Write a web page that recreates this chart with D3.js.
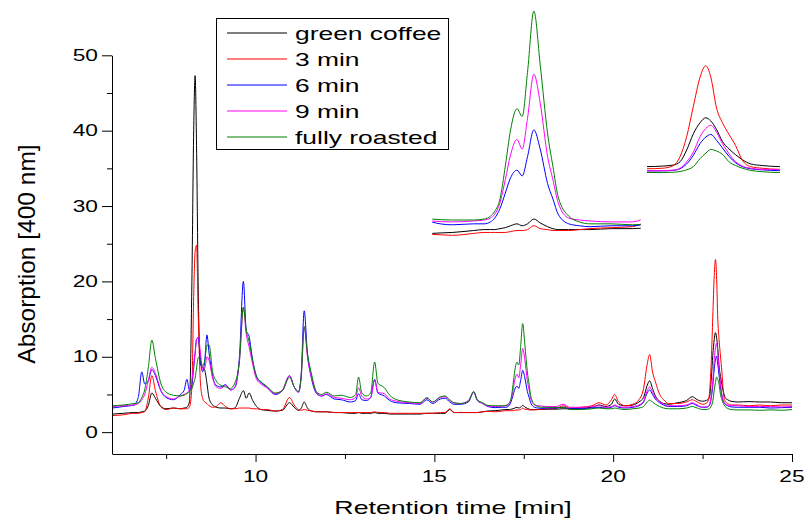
<!DOCTYPE html>
<html>
<head>
<meta charset="utf-8">
<style>
  body { margin: 0; background: #fff; }
  text { font-family: "Liberation Sans", Arial, sans-serif; fill: #000; }
</style>
</head>
<body>
<script src="https://cdn.jsdelivr.net/npm/d3@7"></script>
<script>
// retention time [min], shared by all traces
var times = [
  6.0, 6.3, 6.6, 6.72, 6.82, 6.9, 7.0, 7.1, 7.2, 7.35,
  7.5, 7.7, 7.9, 8.0, 8.08, 8.15, 8.22, 8.27, 8.31, 8.35,
  8.4, 8.46, 8.52, 8.58, 8.64, 8.7, 8.8, 8.9, 9.03, 9.16,
  9.3, 9.42, 9.55, 9.66, 9.74, 9.82, 9.92, 10.03, 10.15, 10.31,
  10.55, 10.75, 10.95, 11.08, 11.2, 11.28, 11.36, 11.45, 11.57, 11.71,
  11.85, 11.98, 12.2, 12.4, 12.65, 12.8, 12.88, 12.97, 13.1, 13.22,
  13.33, 13.42, 13.6, 13.75, 13.95, 14.3, 14.6, 14.79, 14.95, 15.17,
  15.3, 15.43, 15.55, 15.73, 15.95, 16.1, 16.2, 16.35, 16.5, 16.7,
  16.9, 17.0, 17.06, 17.1, 17.15, 17.2, 17.25, 17.31, 17.36, 17.41,
  17.47, 17.53, 17.6, 17.65, 17.7, 17.8, 17.9, 18.0, 18.2, 18.4,
  18.6, 18.8, 19.1, 19.4, 19.6, 19.8, 19.95, 20.04, 20.15, 20.34,
  20.55, 20.72, 20.85, 20.95, 21.02, 21.1, 21.18, 21.3, 21.41, 21.55,
  21.8, 22.05, 22.21, 22.35, 22.5, 22.6, 22.665, 22.705, 22.745, 22.785,
  22.826, 22.86, 22.89, 22.925, 22.96, 23.0, 23.04, 23.08, 23.13, 23.2,
  23.3, 23.5, 23.8, 24.1, 24.4, 24.7, 25.0
];

var greenCoffee = [
  2.4, 2.5, 2.6, 2.6, 2.7, 2.8, 3.5, 5.2, 4.5, 3.4,
  3.1, 3.2, 3.1, 3.2, 3.3, 4.0, 20.0, 40.0, 47.3, 38.0,
  18.0, 9.0, 8.6, 8.2, 6.5, 4.5, 3.6, 3.3, 3.2, 3.2,
  3.1, 3.2, 4.5, 5.5, 4.5, 5.2, 4.2, 3.4, 3.0, 2.9,
  2.8, 2.9, 3.9, 3.3, 2.9, 3.2, 4.0, 3.2, 2.8, 2.7,
  2.7, 2.7, 2.6, 2.6, 2.5, 2.5, 2.6, 2.5, 2.5, 2.5,
  2.6, 2.5, 2.5, 2.4, 2.4, 2.4, 2.4, 2.5, 2.5, 2.5,
  2.5, 3.0, 2.6, 2.6, 2.6, 2.6, 2.6, 2.7, 2.8, 2.85,
  2.95, 3.0, 3.0, 3.0, 3.05, 3.1, 3.2, 3.3, 3.2, 3.3,
  3.55, 3.35, 3.15, 3.05, 3.0, 3.0, 3.0, 3.0, 3.05, 3.05,
  3.1, 3.1, 3.2, 3.3, 3.6, 3.4, 3.7, 4.4, 3.7, 3.5,
  3.6, 4.0, 4.6, 6.2, 6.8, 5.8, 4.8, 4.1, 3.8, 3.7,
  3.9, 4.2, 4.7, 4.3, 4.1, 4.2, 4.4, 5.0, 7.2, 10.2,
  12.3, 13.2, 12.6, 11.0, 8.8, 7.4, 6.3, 5.4, 4.6, 4.3,
  4.1, 4.0, 4.05, 4.0, 4.0, 3.9, 3.9
];

var min3 = [
  2.2, 2.3, 2.5, 2.5, 2.6, 2.7, 4.5, 7.5, 5.5, 3.4,
  3.0, 3.2, 3.1, 3.1, 3.1, 3.3, 6.0, 18.0, 24.0, 24.8,
  15.0, 6.5, 4.5, 4.0, 3.8, 3.5, 3.3, 3.4, 3.9, 3.4,
  3.1, 3.1, 3.2, 3.2, 3.2, 3.2, 3.1, 3.1, 3.0, 3.0,
  2.8, 3.0, 4.6, 3.6, 3.0, 2.9, 3.0, 2.9, 2.8, 2.7,
  2.7, 2.7, 2.6, 2.6, 2.6, 2.6, 2.6, 2.6, 2.6, 2.6,
  2.7, 2.6, 2.6, 2.5, 2.5, 2.5, 2.5, 2.5, 2.5, 2.6,
  2.6, 3.1, 2.6, 2.6, 2.6, 2.6, 2.6, 2.7, 2.75, 2.7,
  2.8, 2.85, 2.85, 2.85, 2.85, 2.85, 2.9, 2.95, 2.95, 3.0,
  3.2, 3.05, 3.0, 2.95, 2.95, 2.95, 3.0, 3.05, 3.1, 3.15,
  3.5, 3.2, 3.3, 3.5, 3.9, 3.6, 4.3, 5.0, 4.0, 3.5,
  3.7, 4.3, 5.8, 9.0, 10.3, 8.0, 6.7, 5.0, 4.3, 3.8,
  3.8, 4.0, 4.3, 4.0, 3.7, 3.8, 4.3, 5.95, 9.7, 15.3,
  20.8, 22.9, 20.8, 15.0, 12.3, 10.1, 8.0, 5.3, 4.1, 3.8,
  3.6, 3.6, 3.5, 3.6, 3.5, 3.6, 3.6
];

var min6 = [
  3.2, 3.4, 3.6, 4.6, 8.0, 6.4, 6.8, 8.3, 7.5, 5.5,
  4.6, 4.3, 5.0, 5.5, 7.0, 5.6, 6.3, 8.5, 10.5, 12.3,
  12.5, 9.5, 8.0, 9.5, 12.9, 10.5, 7.4, 6.2, 6.0, 6.3,
  5.6, 5.9, 10.0, 20.0, 13.5, 12.7, 9.5, 7.3, 6.6, 6.0,
  5.0, 5.5, 7.5, 6.0, 5.3, 8.0, 16.1, 10.5, 7.0, 5.1,
  4.8, 5.0, 4.4, 4.3, 4.0, 4.2, 5.1, 4.3, 4.2, 4.6,
  7.0, 5.2, 4.8, 4.2, 3.9, 3.8, 3.7, 4.3, 3.8, 4.4,
  4.5, 4.0, 3.7, 3.7, 4.0, 5.3, 4.2, 3.8, 3.4, 3.25,
  3.3, 3.3, 3.4, 3.6, 4.1, 4.9, 5.7, 6.1, 5.8, 6.8,
  8.2, 7.2, 5.4, 4.6, 3.8, 3.3, 3.2, 3.15, 3.2, 3.2,
  3.3, 3.1, 3.1, 3.2, 3.3, 3.2, 3.3, 3.5, 3.3, 3.2,
  3.3, 3.5, 4.0, 5.2, 5.6, 5.0, 4.4, 3.9, 3.6, 3.4,
  3.4, 3.5, 3.8, 3.5, 3.3, 3.3, 3.4, 3.7, 4.6, 6.2,
  8.4, 9.6, 10.1, 9.0, 7.6, 6.0, 4.8, 4.1, 3.7, 3.5,
  3.35, 3.3, 3.3, 3.3, 3.2, 3.25, 3.3
];

var min9 = [
  3.4, 3.5, 3.6, 3.8, 4.3, 5.0, 6.8, 8.6, 7.8, 5.6,
  4.7, 4.4, 4.8, 5.0, 5.2, 5.6, 6.8, 9.0, 10.5, 12.3,
  12.6, 10.5, 8.3, 8.5, 10.0, 9.5, 7.2, 6.0, 5.8, 6.2,
  5.6, 6.0, 9.5, 16.5, 13.0, 11.3, 9.0, 7.0, 6.4, 5.9,
  5.1, 5.6, 7.5, 6.0, 5.3, 7.5, 14.0, 10.0, 7.2, 5.2,
  4.8, 5.1, 4.6, 4.5, 4.3, 4.6, 5.9, 4.8, 4.4, 4.6,
  6.9, 5.3, 5.1, 4.4, 4.1, 3.9, 3.8, 4.5, 4.0, 4.6,
  4.7, 4.2, 3.9, 3.8, 4.2, 5.3, 4.3, 3.8, 3.45, 3.4,
  3.45, 3.5, 3.6, 3.8, 4.4, 5.6, 6.9, 7.7, 7.2, 8.8,
  11.1, 9.6, 6.8, 5.6, 4.4, 3.6, 3.5, 3.45, 3.4, 3.4,
  3.7, 3.3, 3.3, 3.4, 3.5, 3.3, 3.4, 3.6, 3.4, 3.3,
  3.4, 3.6, 4.1, 5.5, 6.0, 5.3, 4.6, 4.0, 3.7, 3.5,
  3.5, 3.6, 3.9, 3.6, 3.3, 3.35, 3.45, 3.8, 5.0, 6.8,
  9.7, 11.2, 11.8, 10.5, 8.4, 6.5, 5.0, 4.2, 3.8, 3.6,
  3.55, 3.5, 3.4, 3.4, 3.4, 3.35, 3.4
];

var fullyRoasted = [
  3.5, 3.6, 3.8, 3.9, 4.6, 5.6, 8.5, 12.2, 9.8, 6.5,
  5.3, 4.9, 4.8, 4.9, 5.1, 5.4, 5.8, 6.5, 7.2, 8.5,
  9.9, 9.5, 8.8, 9.5, 11.5, 11.6, 8.0, 6.8, 6.2, 6.0,
  5.8, 6.5, 9.5, 16.6, 13.5, 12.0, 9.5, 7.4, 6.7, 6.1,
  5.2, 5.5, 7.3, 6.0, 5.4, 7.5, 14.0, 10.5, 7.6, 5.3,
  5.0, 5.3, 4.8, 4.9, 4.6, 5.0, 7.3, 5.2, 4.8, 5.2,
  9.3, 6.5, 5.9, 4.9, 4.3, 4.0, 3.9, 4.6, 4.0, 4.7,
  4.8, 4.3, 3.9, 3.8, 4.1, 5.4, 4.3, 3.9, 3.55, 3.5,
  3.5, 3.55, 3.7, 3.95, 4.6, 6.3, 8.2, 9.3, 8.9, 11.2,
  14.4, 11.6, 8.0, 6.3, 4.7, 3.7, 3.4, 3.3, 3.3, 3.25,
  3.3, 3.0, 3.0, 3.1, 3.2, 3.1, 3.1, 3.2, 3.1, 3.0,
  3.1, 3.2, 3.4, 4.0, 4.25, 4.0, 3.7, 3.4, 3.2, 3.1,
  3.1, 3.2, 3.4, 3.2, 3.0, 3.0, 3.05, 3.2, 3.5, 4.1,
  5.6, 6.6, 7.3, 7.0, 6.4, 5.0, 4.3, 3.8, 3.4, 3.15,
  3.0, 2.95, 2.95, 2.9, 2.95, 2.9, 3.0
];

var seriesNames = ["green coffee", "3 min", "6 min", "9 min", "fully roasted"];
var seriesColors = ["#000000", "#ff0000", "#0000ff", "#ff00ff", "#008000"];
var xTicks = [10, 15, 20, 25];
var xMinorTicks = [7.5, 12.5, 17.5, 22.5];
var yTicks = [0, 10, 20, 30, 40, 50];
var yMinorTicks = [5, 15, 25, 35, 45];

var allSeries = [greenCoffee, min3, min6, min9, fullyRoasted];

var width = 805, height = 519;
var svg = d3.select("body").append("svg")
  .attr("width", width).attr("height", height)
  .style("display", "block");

var x = d3.scaleLinear().domain([6, 25]).range([112.5, 792]);
var y = d3.scaleLinear().domain([-2.9, 50]).range([454, 55.3]);

// stretched text like the original export
function label(g, px, py, str, size, anchor) {
  return g.append("text")
    .attr("transform", "translate(" + px + "," + py + ") scale(1.42,1)")
    .attr("text-anchor", anchor)
    .style("font-size", size + "px")
    .text(str);
}

var defs = svg.append("defs");
defs.append("clipPath").attr("id", "clipMain").append("rect")
  .attr("x", 112.5).attr("y", 0).attr("width", 792 - 112.5).attr("height", 454);

// main traces
var lineMain = d3.line()
  .x(function (d) { return x(d[0]); })
  .y(function (d) { return y(d[1]); })
  .curve(d3.curveMonotoneX);

var gMain = svg.append("g").attr("clip-path", "url(#clipMain)");
allSeries.forEach(function (vals, i) {
  gMain.append("path")
    .datum(times.map(function (t, j) { return [t, vals[j]]; }))
    .attr("fill", "none")
    .attr("stroke", seriesColors[i])
    .attr("stroke-width", 1)
    .attr("d", lineMain);
});

// insets: same traces, magnified
function inset(id, xs, ys) {
  defs.append("clipPath").attr("id", id).append("rect")
    .attr("x", xs.range()[0]).attr("y", 0)
    .attr("width", xs.range()[1] - xs.range()[0]).attr("height", 260);
  var ln = d3.line()
    .x(function (d) { return xs(d[0]); })
    .y(function (d) { return ys(d[1]); })
    .curve(d3.curveMonotoneX);
  var g = svg.append("g").attr("clip-path", "url(#" + id + ")");
  allSeries.forEach(function (vals, i) {
    g.append("path")
      .datum(times.map(function (t, j) { return [t, vals[j]]; }))
      .attr("fill", "none")
      .attr("stroke", seriesColors[i])
      .attr("stroke-width", 1)
      .attr("d", ln);
  });
}
inset("clipInset1",
  d3.scaleLinear().domain([16.51, 18.48]).range([432.3, 640.7]),
  d3.scaleLinear().domain([3.5, 14.4]).range([220, 11]));
inset("clipInset2",
  d3.scaleLinear().domain([22.506, 23.307]).range([647, 780]),
  d3.scaleLinear().domain([3.6, 22.9]).range([169.3, 65.7]));

// axes
var gx = svg.append("g").attr("transform", "translate(0,454)");
gx.call(d3.axisBottom(x).tickValues(xTicks).tickSize(8).tickSizeOuter(0).tickFormat(""));
gx.append("g").call(d3.axisBottom(x).tickValues(xMinorTicks).tickSize(5).tickSizeOuter(0).tickFormat(""))
  .select(".domain").remove();
var gy = svg.append("g").attr("transform", "translate(112,0)");
gy.call(d3.axisLeft(y).tickValues(yTicks).tickSize(10).tickSizeOuter(0).tickFormat(""));
gy.append("g").call(d3.axisLeft(y).tickValues(yMinorTicks).tickSize(5).tickSizeOuter(0).tickFormat(""))
  .select(".domain").remove();
svg.selectAll(".domain, .tick line").attr("stroke", "#000").attr("stroke-width", 1);

var gLab = svg.append("g");
xTicks.forEach(function (v) { label(gLab, x(v), 482, String(v), 16, "middle"); });
yTicks.forEach(function (v) { label(gLab, 98, y(v) + 5.7, String(v), 16, "end"); });

label(gLab, 453, 514, "Retention time [min]", 18.8, "middle");
gLab.append("text")
  .attr("transform", "translate(34.5,254) rotate(-90)")
  .attr("text-anchor", "middle")
  .style("font-size", "24.5px")
  .text("Absorption [400 nm]");

// legend
var gLeg = svg.append("g");
gLeg.append("rect")
  .attr("x", 216.5).attr("y", 18.5).attr("width", 232).attr("height", 131)
  .attr("fill", "#fff").attr("stroke", "#000").attr("stroke-width", 1);
seriesNames.forEach(function (name, i) {
  var ry = 33 + i * 26;
  gLeg.append("line")
    .attr("x1", 227).attr("x2", 287).attr("y1", ry).attr("y2", ry)
    .style("stroke", seriesColors[i]).style("stroke-width", 1.2);
  label(gLeg, 295, ry + 6.7, name, 18.6, "start");
});
</script>
</body>
</html>
